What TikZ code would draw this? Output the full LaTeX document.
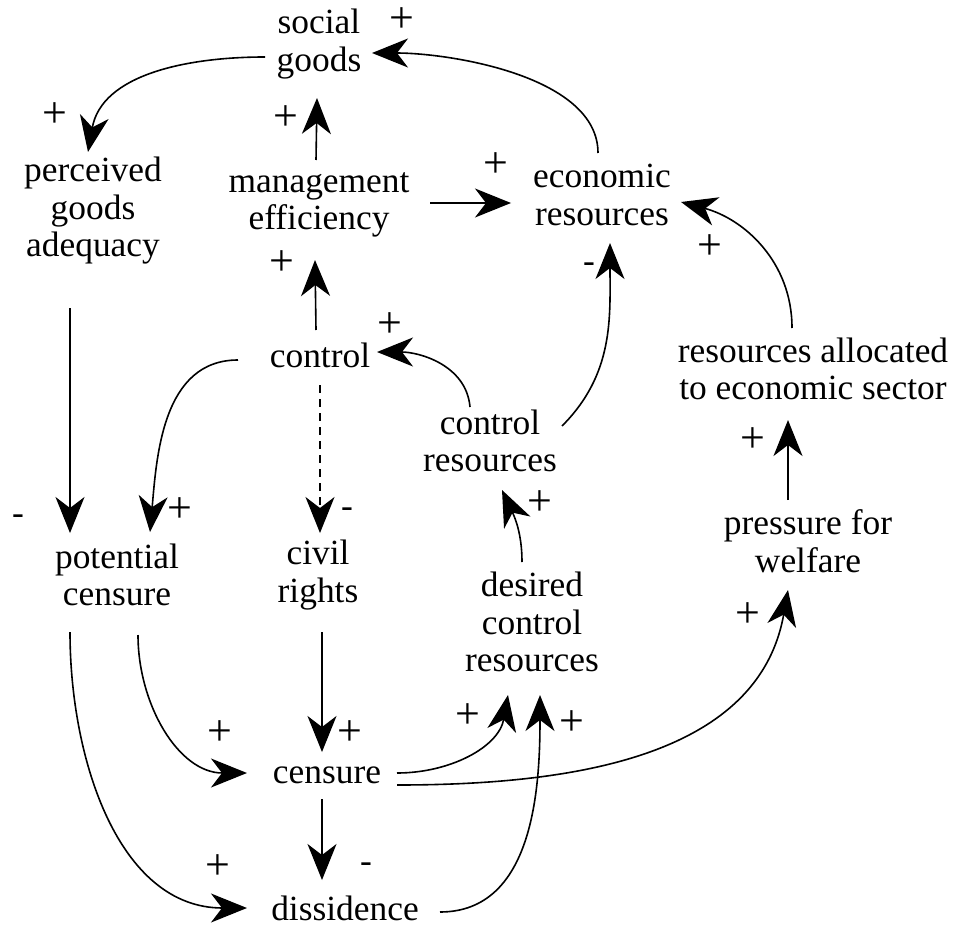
\documentclass[tikz,border=0pt]{standalone}
\usepackage{fontspec}
\setmainfont{Liberation Serif}
\usetikzlibrary{arrows.meta}
\tikzstyle{varnode}=[inner sep=0pt, align=center]
\tikzstyle{polarity}=[inner sep=0pt, font=\fontsize{44}{44}\selectfont]
\tikzstyle{causalLink}=[line width=1.6pt, -{Stealth[length=36pt,width=29pt,inset=11pt]}]

\begin{document}
\begin{tikzpicture}[x=1pt,y=1pt,font=\fontsize{35.4}{37.5}\selectfont]
    \useasboundingbox (0,0) rectangle (955,-928);

    \node[varnode] (social) at (319,-44) {social\\goods};
    \node[varnode] (percv) at (93,-211) {perceived\\goods\\adequacy};
    \node[varnode] (mgmt) at (319,-205) {management\\efficiency};
    \node[varnode] (econ) at (602,-195) {economic\\resources};

    \node[varnode] (ctrl) at (320,-355) {control};
    \node[varnode] (ctrlres) at (490,-441) {control\\resources};
    \node[varnode] (resalloc) at (813,-369) {resources allocated\\to economic sector};

    \node[varnode] (potential) at (117,-575) {potential\\censure};
    \node[varnode] (civil) at (318,-575) {civil\\rights};
    \node[varnode] (desired) at (532,-622) {desired\\control\\resources};
    \node[varnode] (pressure) at (808,-541) {pressure for\\welfare};

    \node[varnode] (censure) at (327,-775) {censure};
    \node[varnode] (dissid) at (345,-908) {dissidence};

    % Arcs
    \draw[causalLink] ([shift={(-4,42)}]econ.center) to[out=90,in=0,looseness=0.8] ([shift={(53,-9)}]social.center);
    \draw[causalLink] ([shift={(-54,-13)}]social.center) to[out=180,in=80] ([shift={(-5,59)}]percv.center);
    \draw[causalLink] ([shift={(-3,45)}]mgmt.center) -- ([shift={(-2,-54)}]social.center);
    \draw[causalLink] ([shift={(-4,25)}]ctrl.center) -- ([shift={(-4,-55)}]mgmt.center);
    \draw[causalLink] ([shift={(111,2)}]mgmt.center) -- ([shift={(-91,-8)}]econ.center);

    \draw[causalLink] ([shift={(-21,41)}]resalloc.center) to[out=90,in=-15] ([shift={(79,-7)}]econ.center);
    \draw[causalLink] ([shift={(72,15)}]ctrlres.center) to[out=45,in=-90] ([shift={(8,-48)}]econ.center);
    \draw[causalLink] ([shift={(-20,34)}]ctrlres.center) to[out=95,in=0] ([shift={(57,3)}]ctrl.center);

    \draw[causalLink] ([shift={(-82,-5)}]ctrl.center) to[out=180,in=85] ([shift={(33,43)}]potential.center);
    \draw[causalLink, dash pattern=on 8pt off 6pt] ([shift={(0,-30)}]ctrl.center) -- ([shift={(2,42)}]civil.center);
    \draw[causalLink] ([shift={(-23,-97)}]percv.center) -- ([shift={(-47,42)}]potential.center);

    \draw[causalLink] ([shift={(4,-57)}]civil.center) -- ([shift={(-5,23)}]censure.center);
    \draw[causalLink] ([shift={(21,-60)}]potential.center) to[out=-90,in=180] ([shift={(-80,2)}]censure.center);
    \draw[causalLink] ([shift={(-47,-57)}]potential.center) to[out=-90,in=180] ([shift={(-98,0)}]dissid.center);
    \draw[causalLink] ([shift={(-5,-24)}]censure.center) -- ([shift={(-23,28)}]dissid.center);

    \draw[causalLink] ([shift={(-10,60)}]desired.center) to[out=90,in=-65] ([shift={(12,-49)}]ctrlres.center);
    \draw[causalLink] ([shift={(70,2)}]censure.center) to[out=0,in=-100] ([shift={(-24,-73)}]desired.center);
    \draw[causalLink] ([shift={(95,-4)}]dissid.center) to[out=0,in=-90] ([shift={(8,-73)}]desired.center);
    \draw[causalLink] ([shift={(70,-10)}]censure.center) to[out=0,in=-100] ([shift={(-20,-49)}]pressure.center);
    \draw[causalLink] ([shift={(-20,41)}]pressure.center) -- ([shift={(-25,-51)}]resalloc.center);

    % Signs
    \node[polarity] (s1) at (402,-20) {+};
    \node[polarity] (s2) at (55,-115) {+};
    \node[polarity] (s3) at (286,-118) {+};
    \node[polarity] (s4) at (282,-263) {+};
    \node[polarity] (s5) at (496,-165) {+};
    \node[polarity] (s6) at (710,-247) {+};
    \node[varnode] (s7) at (589,-268) {-};
    \node[polarity] (s8) at (390,-325) {+};
    \node[polarity] (s9) at (753,-440) {+};
    \node[polarity] (s10) at (180,-510) {+};
    \node[varnode] (s11) at (18,-520) {-};
    \node[varnode] (s12) at (347,-513) {-};
    \node[polarity] (s13) at (540,-503) {+};
    \node[polarity] (s14) at (748,-615) {+};
    \node[polarity] (s15) at (220,-733) {+};
    \node[polarity] (s16) at (350,-733) {+};
    \node[polarity] (s17) at (468,-716) {+};
    \node[polarity] (s18) at (572,-723) {+};
    \node[polarity] (s19) at (218,-867) {+};
    \node[varnode] (s20) at (366,-868) {-};

\end{tikzpicture}
\end{document}
